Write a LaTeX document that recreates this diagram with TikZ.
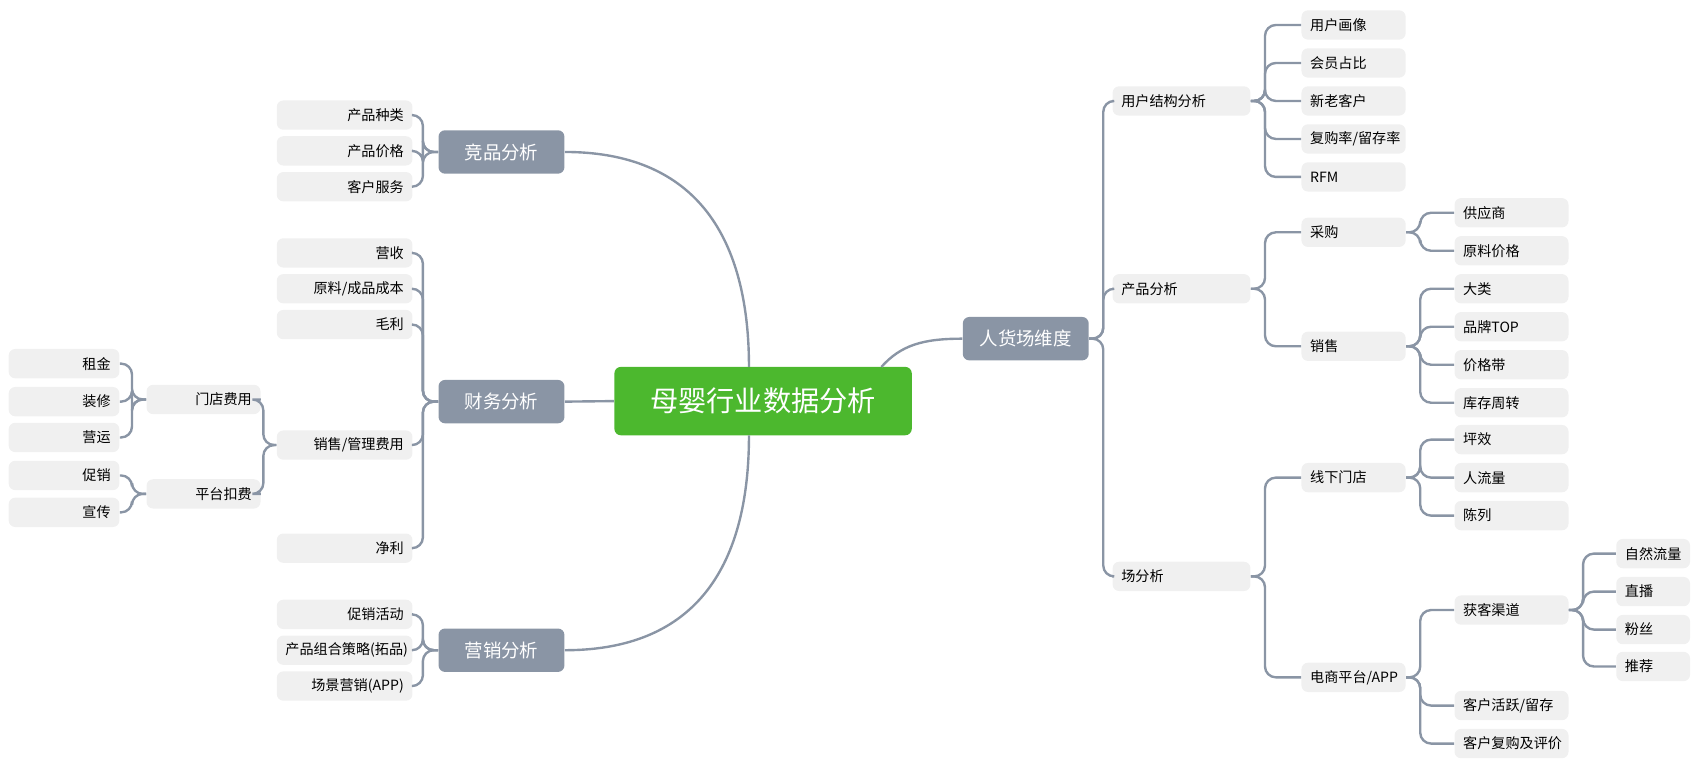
\documentclass[tikz,border=0pt]{standalone}
\usepackage{fontspec}
\setmainfont{Noto Sans CJK SC}
\begin{document}
\begin{tikzpicture}[x=0.5pt,y=-0.5pt,
  conn/.style={draw=lineg,line width=1.1pt,rounded corners=5pt},
  leafR/.style={fill=leafg,rounded corners=3pt,minimum height=13.5pt,inner xsep=4pt,inner ysep=0pt,font=\fontsize{6.5}{7}\selectfont,align=left,anchor=center},
  leafL/.style={leafR,align=right},
  mid/.style={fill=midg,rounded corners=3pt,minimum width=58pt,minimum height=20pt,text=white,font=\fontsize{8.5}{9}\selectfont}]
\definecolor{lineg}{HTML}{8A95A5}
\definecolor{leafg}{HTML}{F0F0F0}
\definecolor{midg}{HTML}{8A95A5}
\definecolor{cg}{HTML}{4CB82E}
\useasboundingbox (0,0) rectangle (1568,720);
% center & level 1
\node[fill=cg,rounded corners=3pt,minimum width=137pt,minimum height=31.5pt,text=white,font=\fontsize{13}{14}\selectfont] (c) at (703,369.5) {母婴行业数据分析};
\node[mid] (jp) at (462,140) {竞品分析};
\node[mid] (cw) at (462,370) {财务分析};
\node[mid] (yx) at (462,599) {营销分析};
\node[mid] (rh) at (945,312) {人货场维度};
\draw[conn] (jp.east) .. controls (650,140) and (690,230) .. (690,338);
\draw[conn] (yx.east) .. controls (650,599) and (690,510) .. (690,401);
\draw[conn] (cw.east) -- (c.west);
\draw[conn] (rh.west) .. controls (850,312) and (830,318) .. (812,338);
% left leaves
\newcommand{\LL}[4]{\node[leafL,text width=54.5pt] (#1) at (317.5,#2) {#3};\draw[conn] (#4.west) -- ++(-14,0) |- (#1.east);}
\LL{a1}{106}{产品种类}{jp}
\LL{a2}{139}{产品价格}{jp}
\LL{a3}{172}{客户服务}{jp}
\LL{b1}{233}{营收}{cw}
\LL{b2}{266}{原料/成品成本}{cw}
\LL{b3}{299}{毛利}{cw}
\LL{b4}{410}{销售/管理费用}{cw}
\LL{b5}{505}{净利}{cw}
\LL{d1}{566}{促销活动}{yx}
\LL{d2}{599}{产品组合策略(拓品)}{yx}
\LL{d3}{632}{场景营销(APP)}{yx}
\newcommand{\LM}[4]{\node[leafL,text width=44.5pt] (#1) at (187.5,#2) {#3};\draw[conn] (#4.west) -- ++(-12,0) |- (#1.east);}
\LM{m1}{368}{门店费用}{b4}
\LM{m2}{455}{平台扣费}{b4}
\newcommand{\LS}[4]{\node[leafL,text width=43pt] (#1) at (59,#2) {#3};\draw[conn] (#4.west) -- ++(-13,0) |- (#1.east);}
\LS{s1}{335}{租金}{m1}
\LS{s2}{370}{装修}{m1}
\LS{s3}{403}{营运}{m1}
\LS{s4}{438}{促销}{m2}
\LS{s5}{472}{宣传}{m2}
% right
\newcommand{\RR}[6]{\node[leafR,text width=#2] (#1) at (#3,#4) {#5};\draw[conn] (#6.east) -- ++(13,0) |- (#1.west);}
\RR{u}{55.5pt}{1088.5}{93}{用户结构分析}{rh}
\RR{p}{55.5pt}{1088.5}{266}{产品分析}{rh}
\RR{f}{55.5pt}{1088.5}{531}{场分析}{rh}
\RR{u1}{40pt}{1247}{23}{用户画像}{u}
\RR{u2}{40pt}{1247}{58}{会员占比}{u}
\RR{u3}{40pt}{1247}{93}{新老客户}{u}
\RR{u4}{40pt}{1247}{128}{复购率/留存率}{u}
\RR{u5}{40pt}{1247}{163}{RFM}{u}
\RR{p1}{40pt}{1247}{214}{采购}{p}
\RR{p2}{40pt}{1247}{319}{销售}{p}
\RR{f1}{40pt}{1247}{440}{线下门店}{f}
\RR{f2}{40pt}{1247}{624}{电商平台/APP}{f}
\RR{q1}{44.5pt}{1392.5}{196}{供应商}{p1}
\RR{q2}{44.5pt}{1392.5}{231}{原料价格}{p1}
\RR{q3}{44.5pt}{1392.5}{266}{大类}{p2}
\RR{q4}{44.5pt}{1392.5}{301}{品牌TOP}{p2}
\RR{q5}{44.5pt}{1392.5}{336}{价格带}{p2}
\RR{q6}{44.5pt}{1392.5}{371}{库存周转}{p2}
\RR{g1}{44.5pt}{1392.5}{405}{坪效}{f1}
\RR{g2}{44.5pt}{1392.5}{440}{人流量}{f1}
\RR{g3}{44.5pt}{1392.5}{475}{陈列}{f1}
\RR{h1}{44.5pt}{1392.5}{562}{获客渠道}{f2}
\RR{h2}{44.5pt}{1392.5}{650}{客户活跃/留存}{f2}
\RR{h3}{44.5pt}{1392.5}{685}{客户复购及评价}{f2}
\RR{k1}{26pt}{1523}{510}{自然流量}{h1}
\RR{k2}{26pt}{1523}{545}{直播}{h1}
\RR{k3}{26pt}{1523}{580}{粉丝}{h1}
\RR{k4}{26pt}{1523}{614}{推荐}{h1}
\end{tikzpicture}
\end{document}
